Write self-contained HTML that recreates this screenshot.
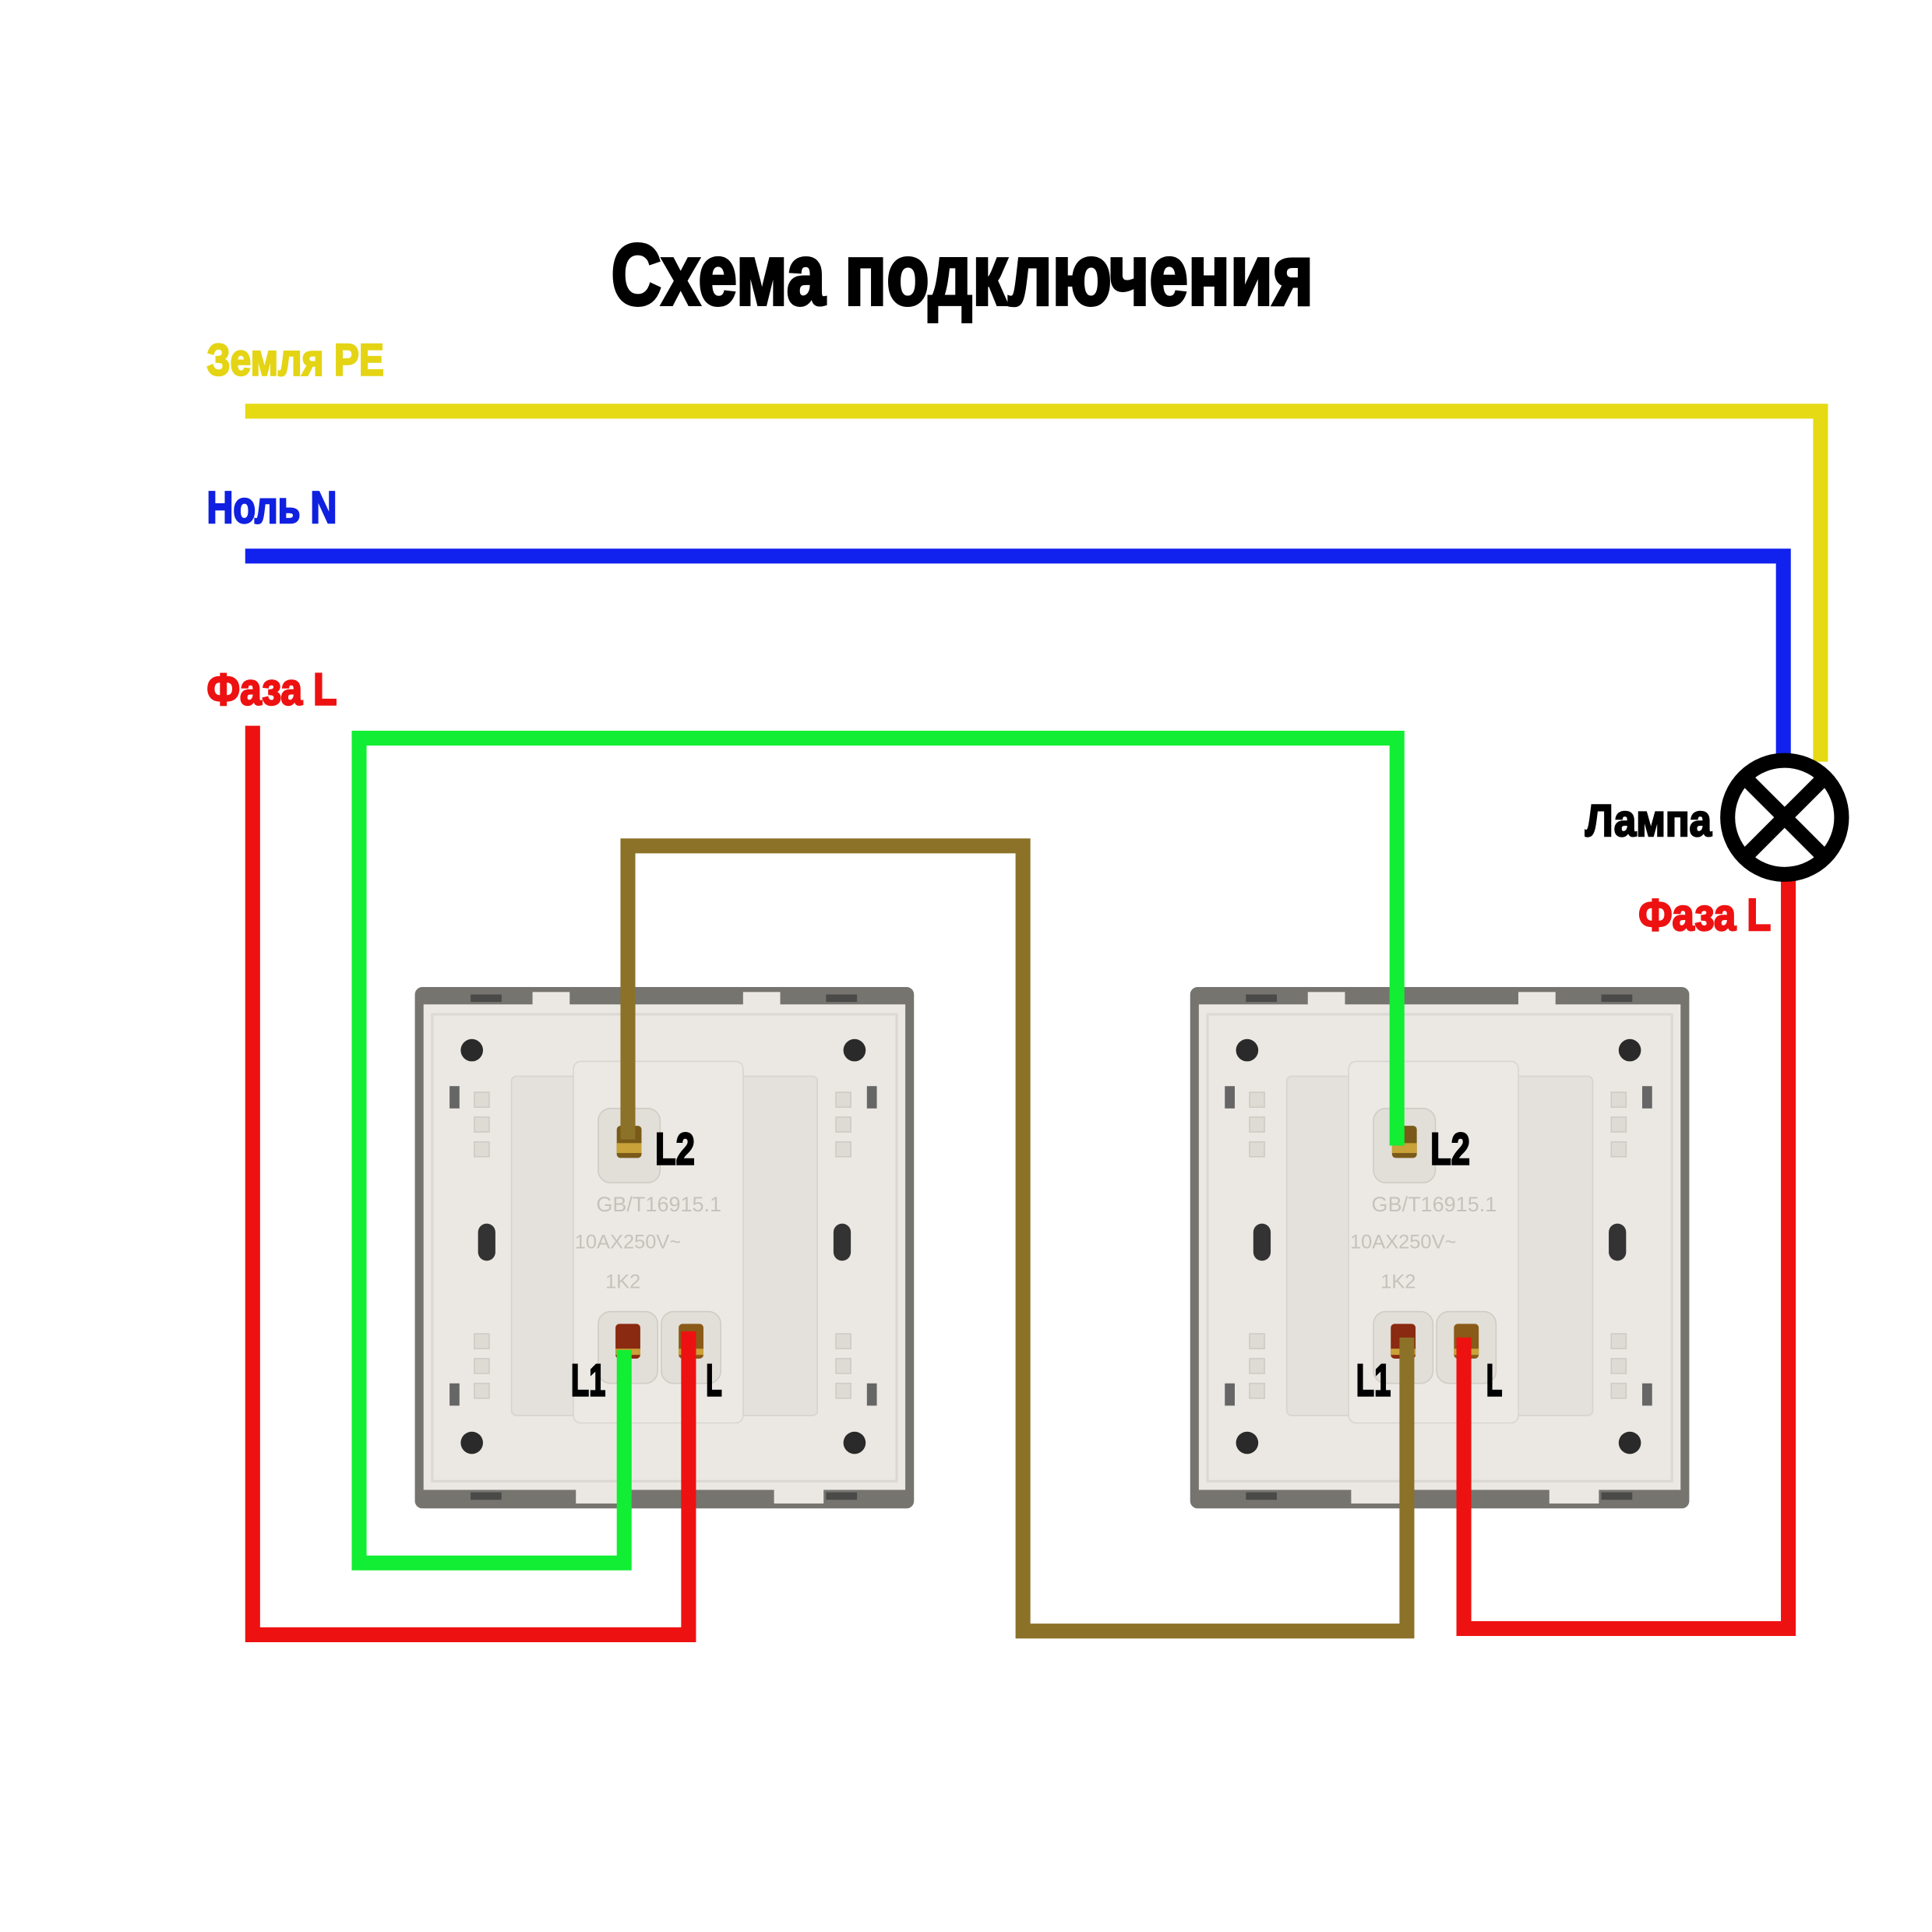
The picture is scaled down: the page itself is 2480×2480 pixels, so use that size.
<!DOCTYPE html>
<html><head><meta charset="utf-8"><style>
html,body{margin:0;padding:0;background:#fff}
svg{display:block}
text{font-family:"Liberation Sans Narrow","Liberation Sans",sans-serif;font-weight:bold}
</style></head><body>
<svg width="2480" height="2480" viewBox="0 0 1560 1560" xmlns="http://www.w3.org/2000/svg">
<rect width="1560" height="1560" fill="#fff"/>
<defs>
<g id="sw">
  <rect x="0" y="0" width="403" height="421" rx="6" fill="#76746f"/>
  <rect x="7" y="14" width="389" height="392" fill="#ebe8e3"/>
  <rect x="14" y="22" width="375" height="377" fill="none" stroke="#dcd8d2" stroke-width="2"/>
  <rect x="45" y="6" width="25" height="6" fill="#4a4a48"/>
  <rect x="332" y="6" width="25" height="6" fill="#4a4a48"/>
  <rect x="45" y="408" width="25" height="6" fill="#4a4a48"/>
  <rect x="332" y="408" width="25" height="6" fill="#4a4a48"/>
  <rect x="95" y="4" width="30" height="12" fill="#ebe8e3"/>
  <rect x="265" y="4" width="30" height="12" fill="#ebe8e3"/>
  <rect x="130" y="405" width="40" height="12" fill="#ebe8e3"/>
  <rect x="290" y="405" width="40" height="12" fill="#ebe8e3"/>
  <circle cx="46" cy="51" r="9" fill="#2a2a2a"/>
  <circle cx="355" cy="51" r="9" fill="#2a2a2a"/>
  <circle cx="46" cy="368" r="9" fill="#2a2a2a"/>
  <circle cx="355" cy="368" r="9" fill="#2a2a2a"/>
  <rect x="51" y="191" width="14" height="30" rx="7" fill="#333"/>
  <rect x="338" y="191" width="14" height="30" rx="7" fill="#333"/>
  <rect x="28" y="80" width="8" height="18" fill="#666"/>
  <rect x="365" y="80" width="8" height="18" fill="#666"/>
  <rect x="28" y="320" width="8" height="18" fill="#666"/>
  <rect x="365" y="320" width="8" height="18" fill="#666"/>
  <g fill="#dedad4" stroke="#cfcac3">
    <rect x="48" y="85" width="12" height="12"/><rect x="48" y="105" width="12" height="12"/><rect x="48" y="125" width="12" height="12"/>
    <rect x="340" y="85" width="12" height="12"/><rect x="340" y="105" width="12" height="12"/><rect x="340" y="125" width="12" height="12"/>
    <rect x="48" y="280" width="12" height="12"/><rect x="48" y="300" width="12" height="12"/><rect x="48" y="320" width="12" height="12"/>
    <rect x="340" y="280" width="12" height="12"/><rect x="340" y="300" width="12" height="12"/><rect x="340" y="320" width="12" height="12"/>
  </g>
  <rect x="78" y="72" width="247" height="274" rx="4" fill="#e4e1dc" stroke="#d6d2cc"/>
  <rect x="128" y="60" width="137" height="292" rx="6" fill="#ece9e5" stroke="#d8d4ce"/>
  <rect x="148" y="98" width="50" height="60" rx="10" fill="#e2ded8" stroke="#d0cbc4"/>
  <rect x="163" y="112" width="20" height="26" rx="3" fill="#7a5a18"/>
  <rect x="163" y="126" width="20" height="8" fill="#c9a23a"/>
  <text x="197" y="181" font-size="17" fill="#c6c2ba" text-anchor="middle" style="font-weight:normal;font-family:'Liberation Sans'">GB/T16915.1</text>
  <text x="172" y="211" font-size="16" fill="#c6c2ba" text-anchor="middle" style="font-weight:normal;font-family:'Liberation Sans'">10AX250V~</text>
  <text x="168" y="243" font-size="16" fill="#c6c2ba" text-anchor="middle" style="font-weight:normal;font-family:'Liberation Sans'">1K2</text>
  <rect x="148" y="262" width="48" height="58" rx="10" fill="#e2ded8" stroke="#d0cbc4"/>
  <rect x="199" y="262" width="48" height="58" rx="10" fill="#e2ded8" stroke="#d0cbc4"/>
  <rect x="162" y="272" width="20" height="28" rx="3" fill="#8a2a10"/>
  <rect x="213" y="272" width="20" height="28" rx="3" fill="#8a5a18"/>
  <rect x="162" y="292" width="20" height="5" fill="#c9a23a"/>
  <rect x="213" y="292" width="20" height="5" fill="#c9a23a"/>
</g>
</defs>

<g stroke-width="1.5">
<text x="777" y="246" font-size="70" text-anchor="middle" textLength="567" lengthAdjust="spacingAndGlyphs" fill="#000" stroke="#000" stroke-width="2.5">Схема подключения</text>
<text x="167" y="303" font-size="36" textLength="143" lengthAdjust="spacingAndGlyphs" fill="#e4d414" stroke="#e4d414">Земля PE</text>
<text x="167" y="422" font-size="36" textLength="105" lengthAdjust="spacingAndGlyphs" fill="#1020e0" stroke="#1020e0">Ноль N</text>
<text x="167" y="569" font-size="36" textLength="105" lengthAdjust="spacingAndGlyphs" fill="#ee1111" stroke="#ee1111">Фаза L</text>
<text x="1280" y="675" font-size="36" textLength="102" lengthAdjust="spacingAndGlyphs" fill="#000" stroke="#000">Лампа</text>
<text x="1323" y="751" font-size="36" textLength="107" lengthAdjust="spacingAndGlyphs" fill="#ee1111" stroke="#ee1111">Фаза L</text>
</g>

<use href="#sw" x="335" y="797"/>
<use href="#sw" x="961" y="797"/>

<g fill="none" stroke-width="12" stroke-linejoin="miter" stroke-linecap="butt">
  <polyline points="198,332 1470,332 1470,615" stroke="#e6da14"/>
  <polyline points="198,449 1440,449 1440,615" stroke="#1122ee"/>
  <polyline points="1444,705 1444,1315 1182,1315 1182,1080" stroke="#ee1111"/>
  <polyline points="204,586 204,1320 556,1320 556,1075" stroke="#ee1111"/>
  <polyline points="504,1090 504,1262 290,1262 290,596 1128,596 1128,925" stroke="#11ee33"/>
  <polyline points="507,920 507,683 826,683 826,1317 1136,1317 1136,1080" stroke="#8b7228"/>
</g>

<circle cx="1441" cy="660" r="46" fill="#fff" stroke="#000" stroke-width="12"/>
<line x1="1409" y1="628" x2="1473" y2="692" stroke="#000" stroke-width="12"/>
<line x1="1473" y1="628" x2="1409" y2="692" stroke="#000" stroke-width="12"/>

<g font-size="36" fill="#000" stroke="#000" stroke-width="1.5">
  <text x="529" y="940" textLength="32" lengthAdjust="spacingAndGlyphs">L2</text>
  <text x="461" y="1127" textLength="28" lengthAdjust="spacingAndGlyphs">L1</text>
  <text x="570" y="1127" textLength="13" lengthAdjust="spacingAndGlyphs">L</text>
  <text x="1155" y="940" textLength="32" lengthAdjust="spacingAndGlyphs">L2</text>
  <text x="1095" y="1127" textLength="28" lengthAdjust="spacingAndGlyphs">L1</text>
  <text x="1200" y="1127" textLength="13" lengthAdjust="spacingAndGlyphs">L</text>
</g>
</svg>
</body></html>
